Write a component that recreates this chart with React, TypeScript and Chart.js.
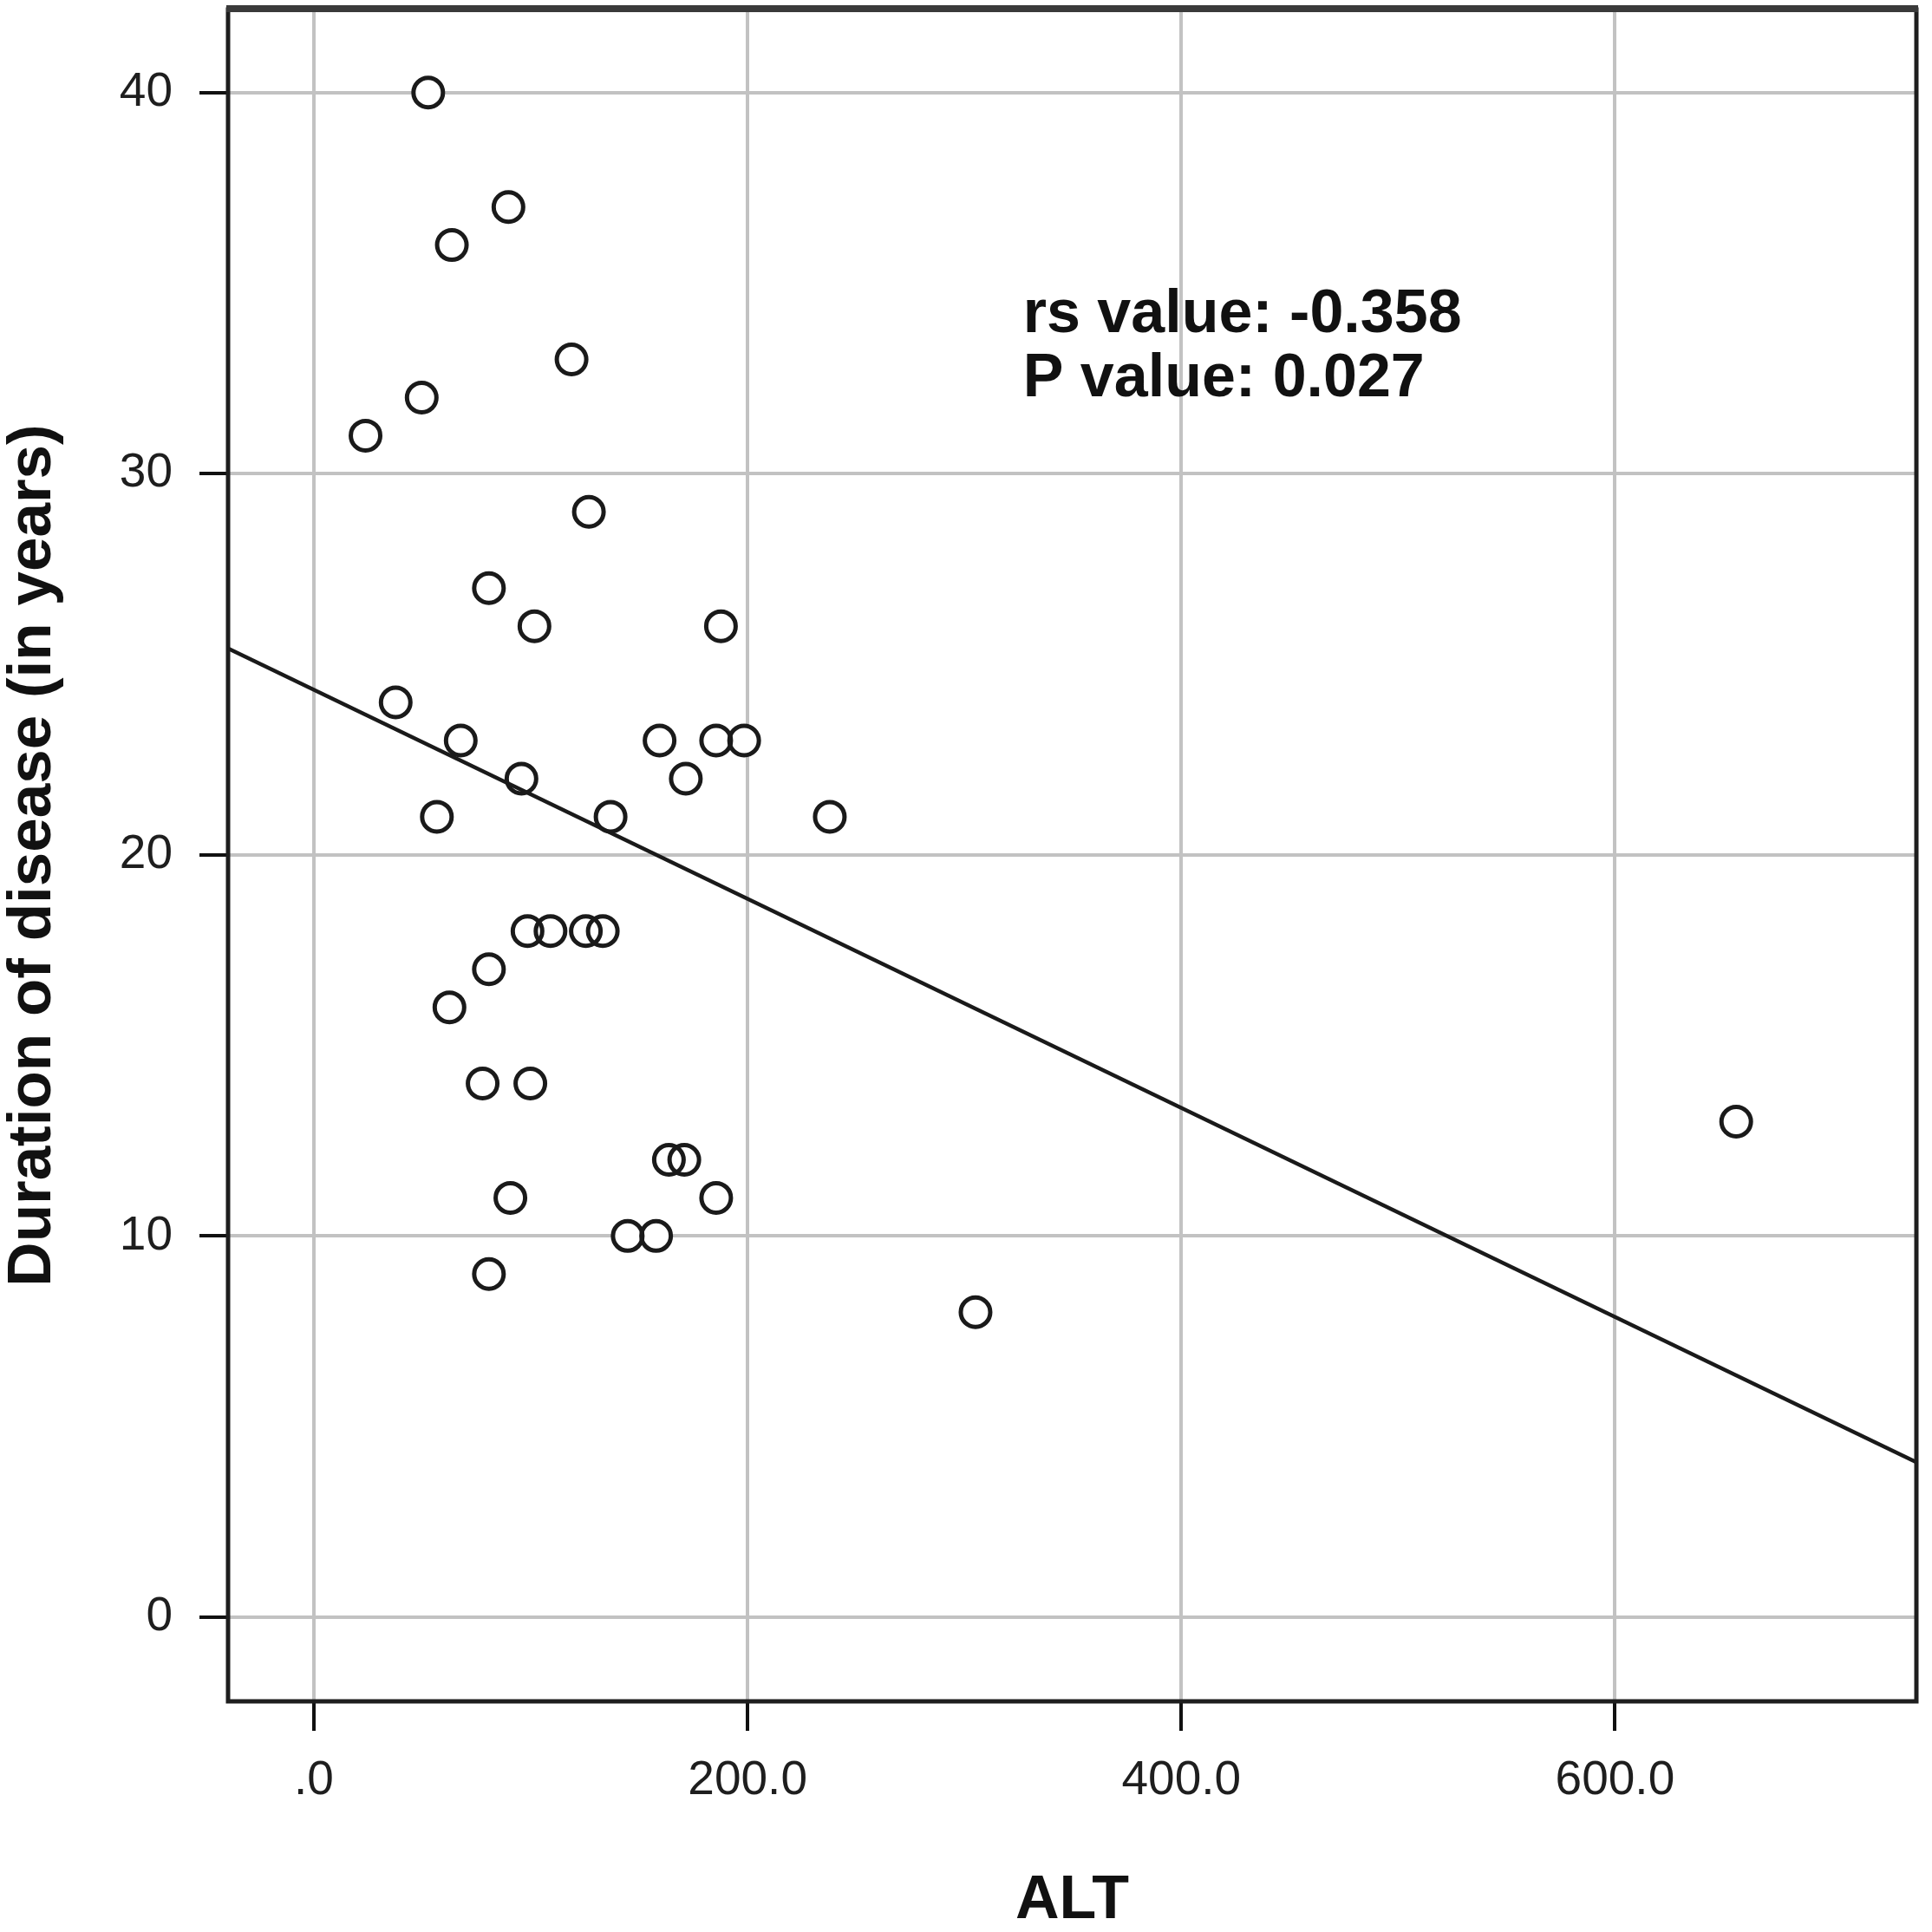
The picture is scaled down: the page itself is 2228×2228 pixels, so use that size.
import React, { useEffect, useRef } from "react";
import { Chart, registerables } from "chart.js";

Chart.register(...registerables);

// ---- Data ----
const ALT_VALUES = [
  52.7, 89.7, 63.6, 118.8, 49.7, 23.8, 126.8, 80.7, 101.7, 187.7, 37.7, 67.7,
  159.4, 185.5, 198.4, 95.7, 171.5, 56.7, 136.8, 237.9, 98.5, 109.1, 125.4,
  133.2, 80.7, 62.5, 77.8, 99.8, 163.7, 170.8, 655.9, 90.6, 185.5, 144.7,
  157.8, 80.7, 305.1,
];
const DURATION_VALUES = [
  40, 37, 36, 33, 32, 31, 29, 27, 26, 26, 24, 23, 23, 23, 23, 22, 22, 21, 21,
  21, 18, 18, 18, 18, 17, 16, 14, 14, 12, 12, 13, 11, 11, 10, 10, 9, 8,
];

// Fit line (linear regression) coefficients
const FIT_INTERCEPT = 24.33;
const FIT_SLOPE = -0.02742;

// Axis ranges and ticks
const X_MIN = -39.6;
const X_MAX = 739;
const Y_MIN = -2.21;
const Y_MAX = 42.18;
const X_TICKS = [0, 200, 400, 600];
const X_TICK_LABELS = [".0", "200.0", "400.0", "600.0"];
const Y_TICKS = [0, 10, 20, 30, 40];
const Y_TICK_LABELS = ["0", "10", "20", "30", "40"];

const X_TITLE = "ALT";
const Y_TITLE = "Duration of disease (in years)";

// Annotation text and its anchor in data units
const ANNOT_LINES = ["rs value: -0.358", "P value: 0.027"];
const ANNOT_X = 327;
const ANNOT_Y = 33.72;

const FONT_FAMILY = '"Liberation Sans", Arial, Helvetica, sans-serif';

const framePlugin = {
  id: "frame",
  afterDraw(chart: any) {
    const { ctx, chartArea } = chart;
    const { left, top, right, bottom } = chartArea;
    ctx.save();
    ctx.strokeStyle = "#1e1e1e";
    ctx.lineWidth = 5;
    ctx.strokeRect(left, top, right - left, bottom - top);
    ctx.strokeStyle = "#3a3a3a";
    ctx.lineWidth = 8;
    ctx.beginPath();
    ctx.moveTo(left - 2, top - 1);
    ctx.lineTo(right + 2, top - 1);
    ctx.stroke();
    ctx.restore();
  },
};

const annotationPlugin = {
  id: "annot",
  afterDatasetsDraw(chart: any) {
    const { ctx, scales } = chart;
    const px = scales.x.getPixelForValue(ANNOT_X);
    const py = scales.y.getPixelForValue(ANNOT_Y);
    ctx.save();
    ctx.font = `bold 70px ${FONT_FAMILY}`;
    ctx.fillStyle = "#111111";
    ctx.textAlign = "left";
    ctx.textBaseline = "alphabetic";
    ANNOT_LINES.forEach((line, i) => {
      ctx.fillText(line, px, py + i * 74);
    });
    ctx.restore();
  },
};

export default function App() {
  const ref = useRef<HTMLCanvasElement>(null);

  useEffect(() => {
    document.body.style.margin = "0";
    if (!ref.current) return;

    const points = ALT_VALUES.map((x, i) => ({ x, y: DURATION_VALUES[i] }));
    const fitLine = [X_MIN, X_MAX].map((x) => ({
      x,
      y: FIT_INTERCEPT + FIT_SLOPE * x,
    }));

    const chart = new Chart(ref.current, {
      type: "scatter",
      data: {
        datasets: [
          {
            label: "Fit line",
            data: fitLine,
            showLine: true,
            borderColor: "#1a1a1a",
            borderWidth: 4.5,
            pointRadius: 0,
            pointHoverRadius: 0,
            order: 0,
          },
          {
            label: "Outline",
            data: points,
            pointRadius: 17,
            pointHoverRadius: 17,
            pointBorderWidth: 5,
            pointBorderColor: "#1a1a1a",
            pointBackgroundColor: "rgba(0,0,0,0)",
            order: 1,
          },
          {
            label: "Fill",
            data: points,
            pointRadius: 17.5,
            pointHoverRadius: 17.5,
            pointBorderWidth: 0,
            pointBorderColor: "rgba(0,0,0,0)",
            pointBackgroundColor: "#ffffff",
            order: 2,
          },
        ],
      },
      options: {
        animation: false,
        responsive: false,
        devicePixelRatio: 1,
        layout: {
          autoPadding: false,
          padding: { left: 0, top: 11, right: 18, bottom: 0 },
        },
        plugins: {
          legend: { display: false },
          tooltip: { enabled: false },
        },
        scales: {
          x: {
            type: "linear",
            min: X_MIN,
            max: X_MAX,
            afterBuildTicks: (scale: any) => {
              scale.ticks = X_TICKS.map((v) => ({ value: v }));
            },
            afterFit: (scale: any) => {
              scale.height = 266;
              scale.paddingLeft = 0;
              scale.paddingRight = 0;
            },
            border: { display: false },
            grid: {
              color: "#c2c2c2",
              lineWidth: 4,
              drawTicks: true,
              tickLength: 34,
              tickColor: "#111111",
              tickWidth: 4,
            },
            ticks: {
              autoSkip: false,
              maxRotation: 0,
              padding: 25,
              color: "#1e1e1e",
              font: { family: FONT_FAMILY, size: 55 },
              callback: (_v: any, i: number) => X_TICK_LABELS[i],
            },
            title: {
              display: true,
              text: X_TITLE,
              color: "#111111",
              font: { family: FONT_FAMILY, size: 70, weight: "bold", lineHeight: 1 },
              padding: { top: 0, bottom: 0 },
            },
          },
          y: {
            type: "linear",
            min: Y_MIN,
            max: Y_MAX,
            afterBuildTicks: (scale: any) => {
              scale.ticks = Y_TICKS.map((v) => ({ value: v }));
            },
            afterFit: (scale: any) => {
              scale.width = 263;
              scale.paddingTop = 0;
              scale.paddingBottom = 0;
            },
            border: { display: false },
            grid: {
              color: "#c2c2c2",
              lineWidth: 4,
              drawTicks: true,
              tickLength: 33,
              tickColor: "#111111",
              tickWidth: 4,
            },
            ticks: {
              autoSkip: false,
              padding: 31,
              color: "#1e1e1e",
              font: { family: FONT_FAMILY, size: 55 },
              callback: (_v: any, i: number) => Y_TICK_LABELS[i],
            },
            title: {
              display: true,
              text: Y_TITLE,
              color: "#111111",
              font: { family: FONT_FAMILY, size: 71, weight: "bold", lineHeight: 1 },
              padding: { top: 3, bottom: 0 },
            },
          },
        },
      },
      plugins: [framePlugin, annotationPlugin],
    } as any);

    return () => chart.destroy();
  }, []);

  return (
    <canvas
      ref={ref}
      width={2228}
      height={2228}
      style={{ display: "block", width: "2228px", height: "2228px" }}
    />
  );
}
